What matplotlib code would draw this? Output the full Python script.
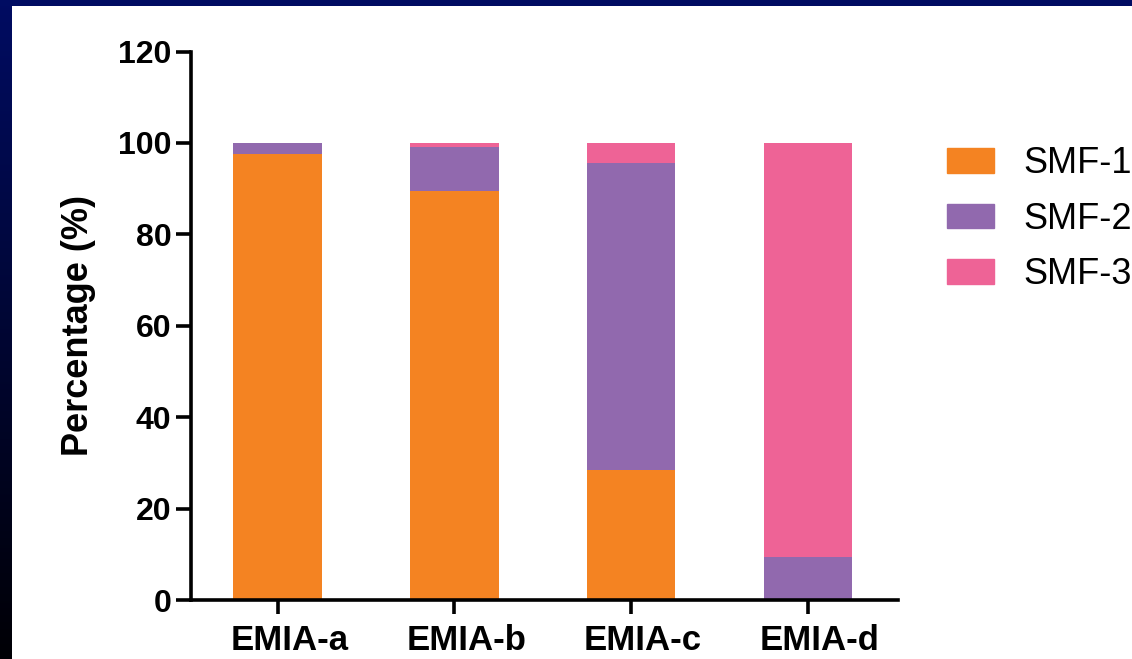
import numpy as np
import matplotlib.pyplot as plt
from matplotlib.patches import Patch, Rectangle
from matplotlib.transforms import ScaledTranslation

plt.rcParams['font.family'] = ['Liberation Sans', 'DejaVu Sans']

grupos = ["EMIA-a", "EMIA-b", "EMIA-c", "EMIA-d"]
series = ["SMF-1", "SMF-2", "SMF-3"]
smf1 = [97.5, 89.5, 28.5, 0.0]
smf2 = [2.5, 9.5, 67.0, 9.5]
smf3 = [0.0, 1.0, 4.5, 90.5]
cores = ["#F48322", "#9169AE", "#EE6396"]
yticks = [0, 20, 40, 60, 80, 100, 120]

fig = plt.figure(figsize=(11.32, 6.59), dpi=100)
fig.patch.set_facecolor("white")

# moldura azul: faixa de cima e degrade na esquerda
fundo = fig.add_axes([0, 0, 1, 1], zorder=-10)
fundo.axis("off")
grad = np.linspace(0, 1, 256)[:, None]
topo = np.array([0x00, 0x0C, 0x62]) / 255
base = np.array([0x00, 0x00, 0x05]) / 255
img = topo[None, None, :] * (1 - grad[..., None]) + base[None, None, :] * grad[..., None]
fundo.imshow(img, extent=(0, 12, 659, 0), aspect="auto", interpolation="bilinear")
fundo.add_patch(Rectangle((0, 0), 1132, 6, color="#000C62", lw=0))
fundo.set_xlim(0, 1132)
fundo.set_ylim(659, 0)

ax = fig.add_axes([191 / 1132, 1 - 600 / 659, (898 - 191) / 1132, (600 - 51.5) / 659])
x = np.arange(len(grupos))
largura = 0.5
baixo = np.zeros(len(grupos))
for nome, vals, cor in zip(series, [smf1, smf2, smf3], cores):
    vals = np.array(vals)
    ax.bar(x, vals, largura, bottom=baixo, color=cor, label=nome, lw=0)
    baixo += vals

ax.set_xlim(-0.49, 3.51)
ax.set_ylim(0, 120)
ax.set_yticks(yticks)
ax.set_xticks(x)
ax.set_xticklabels(grupos)
for s in ["top", "right"]:
    ax.spines[s].set_visible(False)
for s in ["left", "bottom"]:
    ax.spines[s].set_linewidth(2.6)
ax.tick_params(axis="y", width=2.6, length=11, pad=3, labelsize=23)
ax.tick_params(axis="x", width=2.6, length=10, pad=7, labelsize=25)
desloca = ScaledTranslation(12 / 100, 0, fig.dpi_scale_trans)
for t in ax.get_xticklabels():
    t.set_fontweight("bold")
    t.set_transform(t.get_transform() + desloca)
for t in ax.get_yticklabels():
    t.set_fontweight("bold")
ax.set_ylabel("Percentage (%)", fontsize=26, fontweight="bold", labelpad=16)

handles = [Patch(color=c, label=n) for n, c in zip(series, cores)]
fig.legend(handles=handles, loc="upper left", bbox_to_anchor=(933 / 1132, 1 - 132 / 659),
           frameon=False, fontsize=26, handlelength=1.3, handleheight=0.68,
           handletextpad=0.8, labelspacing=0.56, borderaxespad=0)

fig.savefig("out.png", dpi=100)
